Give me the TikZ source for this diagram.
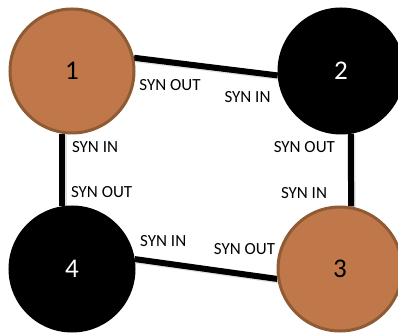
\documentclass[tikz,border=0pt]{standalone}
\usepackage{fontspec}
\setmainfont{Carlito}
\usetikzlibrary{positioning, backgrounds}
\definecolor{cobre}{HTML}{C0774A}
\definecolor{cobreoscuro}{HTML}{8E5B35}
\tikzset{
    unit/.style = {circle, minimum size=124pt, inner sep=0pt, line width=3pt, font=\fontsize{27}{30}\selectfont},
    lit/.style = {unit, draw=cobreoscuro, fill=cobre, text=black},
    dark/.style = {unit, draw=black, fill=black, text=white},
    link/.style = {line width=6pt, preaction={draw=black!12, line width=6pt, transform canvas={shift={(1.5pt,-1.5pt)}}}},
    tag/.style = {font=\fontsize{17}{20}\selectfont, inner sep=3pt}
}

\begin{document}
\begin{tikzpicture}[x=1pt, y=1pt]
    \useasboundingbox (0,0) rectangle (398,334);
    % Nodos
    \node [lit] (n1) at (72,263) {1};
    \node [dark] (n2) at (341,263) {2};
    \node [lit] (n3) at (340,65) {3};
    \node [dark] (n4) at (72,65) {4};
    % Conexiones
    \begin{scope}[on background layer]
    \draw [link] (n1.12) -- node [tag, pos=0.25, below=11pt] {SYN OUT}
        node [tag, pos=0.79, below=14pt] {SYN IN} (n2.184);
    \draw [link] (n1.261) -- node [tag, pos=0.19, right=4pt] {SYN IN}
        node [tag, pos=0.81, right=3pt] {SYN OUT} (n4.99);
    \draw [link] (n2.279) -- node [tag, pos=0.18, left=10pt] {SYN OUT}
        node [tag, pos=0.82, left=18pt] {SYN IN} (n3.80);
    \draw [link] (n4.9) -- node [tag, pos=0.2, above=10pt] {SYN IN}
        node [tag, pos=0.77, above=14pt] {SYN OUT} (n3.189);
    \end{scope}
\end{tikzpicture}
\end{document}
